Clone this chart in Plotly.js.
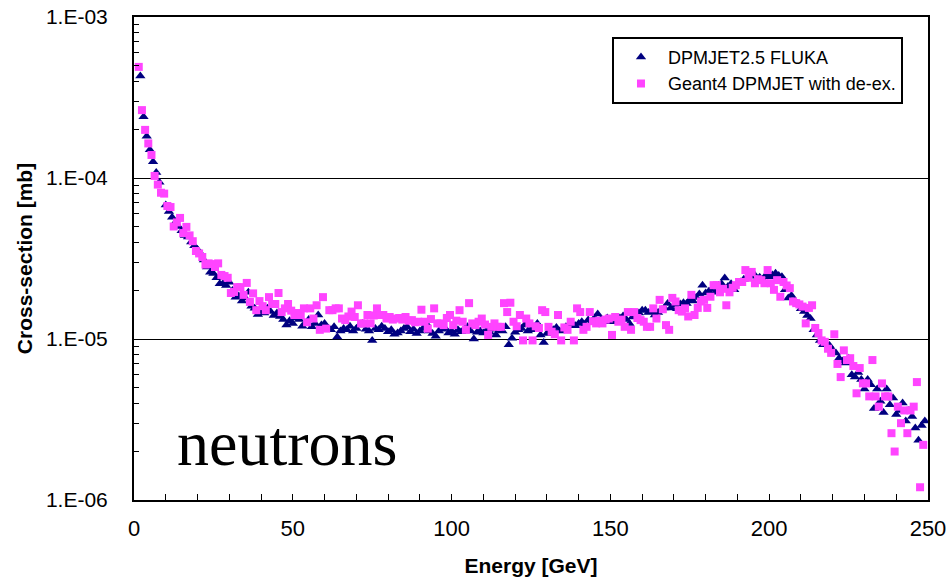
<!DOCTYPE html>
<html>
<head>
<meta charset="utf-8">
<script src="https://cdn.plot.ly/plotly-3.0.1.min.js"></script>
<style>html,body{margin:0;padding:0;background:#fff;}#chart{width:947px;height:580px;}</style>
</head>
<body>
<div id="chart"></div>
<script>
// Energy bins [GeV]
const flukaEnergy = [
2,3,4,5,6,7,8,9,10,11,12,13,14,15,16,17,18,19,20,21,
22,23,24,25,26,27,28,29,30,31,32,33,34,35,36,37,38,39,40,41,
42,43,44,45,46,47,48,49,50,51,52,53,54,55,56,57,58,59,60,61,
62,63,64,65,66,67,68,69,70,71,72,73,74,75,76,77,78,79,80,81,
82,83,84,85,86,87,88,89,90,91,92,93,94,95,96,97,98,99,100,101,
102,103,104,105,106,107,108,109,110,111,112,113,114,115,116,117,118,119,120,121,
122,123,124,125,126,127,128,129,130,131,132,133,134,135,136,137,138,139,140,141,
142,143,144,145,146,147,148,149,150,151,152,153,154,155,156,157,158,159,160,161,
162,163,164,165,166,167,168,169,170,171,172,173,174,175,176,177,178,179,180,181,
182,183,184,185,186,187,188,189,190,191,192,193,194,195,196,197,198,199,200,201,
202,203,204,205,206,207,208,209,210,211,212,213,214,215,216,217,218,219,220,221,
222,223,224,225,226,227,228,229,230,231,232,233,234,235,236,237,238,239,240,241,
242,243,244,245,246,247,248,249];

// DPMJET2.5 FLUKA cross-section, in nb (1 nb = 1e-6 mb)
const flukaNb = [
430,240,182,150,126,108,94,80,68,62,
57,53,50,47,44,43,40,38,36,34,
31,28,26,25.5,24,22,22,21.5,22.5,20,
18.2,18.5,17.2,18,19.5,16,15.5,14.2,15,14.5,
15.5,14.8,14,14.5,13.8,13.2,12.2,13,12.5,13.5,
13.2,12,12.5,13.2,11.9,12.5,14.1,12.2,12.5,11.7,
11.4,11.9,10.3,11.2,11.6,11.4,12,11.2,11.6,12.2,
12.5,11.5,11.2,9.8,11.6,11.4,12,11.6,11.1,11.4,
10.7,10.9,11.2,11.6,11.9,11.1,11.5,10.8,11.2,11.6,
12.5,11.2,10.8,10.4,11.2,11.5,11.6,10.9,11.2,10.7,
11.4,11.1,11.5,11.9,11.2,10,11,11.2,10.9,11.3,
11,11.5,10.6,11.3,11.2,11.9,9.2,10.1,11,11.4,
11.6,12.2,11.2,11.4,11.8,12.5,10.6,9.5,10.8,11.1,
11.4,11.8,11.2,11.4,11.9,12.3,12.5,12.1,12.5,12.8,
12.3,13.1,12.7,13.5,14.3,13.2,12.8,13.5,12.8,13.3,
12.8,13.5,13.9,13.2,12.5,13.7,14.1,14.5,15.1,15.1,
14.6,14.8,14.1,14.6,15.2,15.6,16.6,15.6,16.2,15.4,
16.5,16.8,16.6,17.5,17.2,18.1,19,21.6,19.3,19.8,
20.5,19.5,21.5,22,23.9,21.2,22,20.2,22,22.6,
23.5,24,24.5,25.6,23.2,24.2,23.2,25,24.4,25,
25.6,24.8,24.4,20.2,18,18.6,17.2,16.6,15.4,14.8,
14,13.4,11.4,10.6,9.8,9.2,9.3,9.1,8.5,8.2,
7.6,7.3,7.1,7.6,6,5.8,6.2,5.6,4.9,5.6,
5.2,3.7,4.9,4.1,3.5,4.9,3.9,4.3,3.4,3.6,
4,3.1,3.6,3.3,2.8,2.35,2.9,3.1];

const g4Energy = [
1.5,2.5,3.5,4.5,5.5,6.5,7.5,8.5,9.5,10.5,11.5,12.5,13.5,14.5,15.5,16.5,17.5,18.5,19.5,20.5,
21.5,22.5,23.5,24.5,25.5,26.5,27.5,28.5,29.5,30.5,31.5,32.5,33.5,34.5,35.5,36.5,37.5,38.5,39.5,40.5,
41.5,42.5,43.5,44.5,45.5,46.5,47.5,48.5,49.5,50.5,51.5,52.5,53.5,54.5,55.5,56.5,57.5,58.5,59.5,60.5,
61.5,62.5,63.5,64.5,65.5,66.5,67.5,68.5,69.5,70.5,71.5,72.5,73.5,74.5,75.5,76.5,77.5,78.5,79.5,80.5,
81.5,82.5,83.5,84.5,85.5,86.5,87.5,88.5,89.5,90.5,91.5,92.5,93.5,94.5,95.5,96.5,97.5,98.5,99.5,100.5,
101.5,102.5,103.5,104.5,105.5,106.5,107.5,108.5,109.5,110.5,111.5,112.5,113.5,114.5,115.5,116.5,117.5,118.5,119.5,120.5,
121.5,122.5,123.5,124.5,125.5,126.5,127.5,128.5,129.5,130.5,131.5,132.5,133.5,134.5,135.5,136.5,137.5,138.5,139.5,140.5,
141.5,142.5,143.5,144.5,145.5,146.5,147.5,148.5,149.5,150.5,151.5,152.5,153.5,154.5,155.5,156.5,157.5,158.5,159.5,160.5,
161.5,162.5,163.5,164.5,165.5,166.5,167.5,168.5,169.5,170.5,171.5,172.5,173.5,174.5,175.5,176.5,177.5,178.5,179.5,180.5,
181.5,182.5,183.5,184.5,185.5,186.5,187.5,188.5,189.5,190.5,191.5,192.5,193.5,194.5,195.5,196.5,197.5,198.5,199.5,200.5,
201.5,202.5,203.5,204.5,205.5,206.5,207.5,208.5,209.5,210.5,211.5,212.5,213.5,214.5,215.5,216.5,217.5,218.5,219.5,220.5,
221.5,222.5,223.5,224.5,225.5,226.5,227.5,228.5,229.5,230.5,231.5,232.5,233.5,234.5,235.5,236.5,237.5,238.5,239.5,240.5,
241.5,242.5,243.5,244.5,245.5,246.5,247.5,248.5];

// Geant4 DPMJET with de-excitation, in nb
const g4Nb = [
490,264,199,164,139,103,91,81,80,67,
66,50,53,56.5,45.5,49.7,44,40.5,35.2,34,
32.3,29,29.5,29.2,28,29.5,25,24.6,24,19.3,
19.6,21,21,18.8,22.3,17,19.2,15.1,17.2,16,
15.1,18.2,16.5,16.5,19.3,14.7,15.5,16.5,15,14.1,
14.5,14.1,15.5,12.7,15.5,13.4,16.2,11.4,18.2,11.6,
15.1,15.1,15.5,15.5,13.4,13.1,13.8,14.8,13.7,16.2,
12.5,12.5,14.1,12.5,14,15.5,14.1,14.1,13.4,13.7,
13.2,13.4,13.5,13.2,13.7,13,13.1,12.7,12.8,15.2,
12.8,11.6,13.3,15.5,12.5,12.5,12.2,13.5,14.1,12.2,
13,15.1,12.8,11.4,16.7,12.5,12.2,12.8,13.4,12.3,
10.6,11.9,12.5,11.9,11.9,16.7,14.7,16.8,12.8,12,
14.1,9.8,13.4,12.5,9.8,12,11.7,15.1,14.7,11.9,
11.1,10.7,14.1,9.8,11.8,11.4,12.8,9.8,15.5,14.7,
11.4,11.9,14.7,12.9,12.5,13,12.5,13.2,13.4,10.6,
13.7,12.8,13.2,11.9,14.7,11.4,14.7,13.5,13.1,12.8,
11.9,11.9,15.5,13.4,17.5,15.3,12.2,11.4,18,17.1,
15.1,14.8,15.5,13.8,18.8,14.1,15.6,17.1,17.5,15.6,
18.3,21.6,21.6,19.5,20.5,16.2,19.5,20.8,21.6,22.6,
22.6,26.8,24,26.1,22.2,23.5,23.2,22.2,26.8,22.2,
20.2,23.2,18.3,22.6,21.5,20.7,17.1,16.7,16.4,15.9,
12.5,15.6,16.2,11.7,10.9,9.8,9.6,8.7,8.2,10.7,
7,5.8,8.5,7.4,7.6,6.8,4.6,6.6,5.3,5.3,
4.4,7.4,4.4,3.8,5.3,4.4,4.4,2.6,2,3.8,
3,3.6,2.6,3.6,3.8,5.4,1.2,2.2];

const seriesNames = ['DPMJET2.5 FLUKA', 'Geant4 DPMJET with de-ex.'];
const yTickVals = [1e-6, 1e-5, 1e-4, 1e-3];
const yTickText = ['1.E-06', '1.E-05', '1.E-04', '1.E-03'];
const xTickVals = [0, 50, 100, 150, 200, 250];
const mantissas = [2, 3, 4, 5, 6, 7, 8, 9];

const NB_TO_MB = 1e-6;
const yMinor = [];
[1e-6, 1e-5, 1e-4].forEach(d => mantissas.forEach(m => yMinor.push(m * d)));

const font = 'Liberation Sans, Arial, Helvetica, sans-serif';

const traces = [
  {
    type: 'scatter', mode: 'markers', name: seriesNames[0],
    x: flukaEnergy, y: flukaNb.map(v => v * NB_TO_MB),
    marker: {symbol: 'triangle-up', size: 9, color: '#000080', line: {width: 0}},
    cliponaxis: true
  },
  {
    type: 'scatter', mode: 'markers', name: seriesNames[1],
    x: g4Energy, y: g4Nb.map(v => v * NB_TO_MB),
    marker: {symbol: 'square', size: 8, color: '#ff44ff', line: {width: 0}},
    cliponaxis: true
  }
];

const layout = {
  width: 947, height: 580,
  margin: {l: 134, r: 19, t: 17, b: 80},
  paper_bgcolor: '#ffffff', plot_bgcolor: '#ffffff',
  font: {family: font, color: '#000'},
  showlegend: true,
  legend: {
    x: 0.602, y: 0.959, xanchor: 'left', yanchor: 'top',
    bgcolor: '#ffffff', bordercolor: '#000', borderwidth: 2,
    font: {family: font, size: 18, color: '#000'},
    itemwidth: 44, tracegroupgap: 0, itemsizing: 'trace'
  },
  xaxis: {
    range: [0, 250], tickmode: 'array', tickvals: xTickVals,
    ticks: 'inside', ticklen: 6, tickwidth: 1, tickcolor: '#000',
    minor: {dtick: 10, ticks: 'inside', ticklen: 6, tickwidth: 1, tickcolor: '#000', showgrid: false},
    showline: true, linewidth: 2, linecolor: '#000', mirror: true,
    showgrid: false, zeroline: false,
    tickfont: {family: font, size: 22, color: '#000'},
    ticklabelstandoff: 8,
    title: {text: 'Energy [GeV]', font: {family: font, size: 21, weight: 'bold', color: '#000'}, standoff: 18}
  },
  yaxis: {
    type: 'log', range: [-6, -3], tickmode: 'array', tickvals: yTickVals, ticktext: yTickText,
    ticks: 'inside', ticklen: 6, tickwidth: 1, tickcolor: '#000',
    minor: {tickmode: 'array', tickvals: yMinor, ticks: 'inside', ticklen: 5, tickwidth: 1, tickcolor: '#000', showgrid: false},
    showline: true, linewidth: 2, linecolor: '#000', mirror: true,
    showgrid: true, gridcolor: '#000', gridwidth: 1, zeroline: false,
    tickfont: {family: font, size: 21, color: '#000'},
    ticklabelstandoff: 20,
    title: {text: 'Cross-section [mb]', font: {family: font, size: 21, weight: 'bold', color: '#000'}, standoff: 8}
  },
  annotations: [{
    text: 'neutrons', xref: 'paper', yref: 'paper', x: 0.193, y: 0.04,
    xanchor: 'center', yanchor: 'bottom', showarrow: false,
    font: {family: 'Liberation Serif, Times New Roman, serif', size: 64, color: '#000'}
  }]
};

Plotly.newPlot('chart', traces, layout, {displayModeBar: false, staticPlot: true});
</script>
</body>
</html>
